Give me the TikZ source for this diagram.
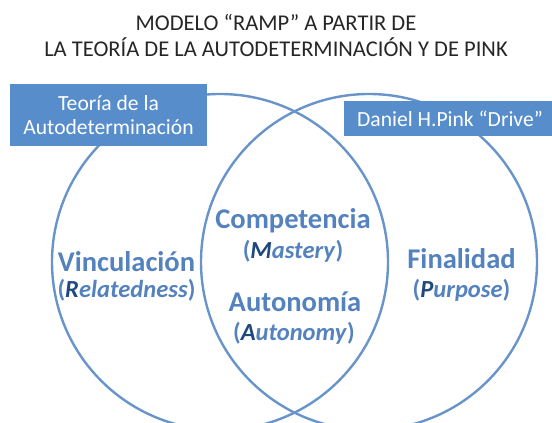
\documentclass[tikz,border=0pt]{standalone}
\usepackage{fontspec}
\setmainfont{Carlito}
\usepackage{xcolor}
\usepackage{tikz}
\definecolor{vennblue}{RGB}{104, 148, 202}
\definecolor{boxblue}{RGB}{88, 141, 203}
\definecolor{labelblue}{RGB}{84, 130, 190}
\definecolor{initialblue}{RGB}{31, 73, 125}
\definecolor{titlegray}{RGB}{38, 38, 38}

\begin{document}
\begin{tikzpicture}[
  x=0.75pt, y=-0.75pt,
  vennring/.style={draw=vennblue, line width=1.8pt},
  titleline/.style={anchor=base, text=titlegray, font=\fontsize{16.9}{19}\selectfont},
  sourcebox/.style={rectangle, fill=boxblue, text=white, inner sep=0pt, align=center, font=\fontsize{16.2}{18}\selectfont},
  needname/.style={anchor=base, text=labelblue, font=\bfseries\fontsize{21.4}{24}\selectfont},
  needgloss/.style={anchor=base, text=labelblue, font=\bfseries\fontsize{18.4}{22}\selectfont}
]
\useasboundingbox (0,0) rectangle (552,423);
\clip (0,0) rectangle (552,423);

% Title
\node[titleline] (title1) at (276, 31) {MODELO “RAMP” A PARTIR DE};
\node[titleline] (title2) at (276, 56.5) {LA TEORÍA DE LA AUTODETERMINACIÓN Y DE PINK};

% Venn circles
\coordinate (sdtcentre) at (220, 262);
\coordinate (pinkcentre) at (369, 262);
\draw[vennring] (sdtcentre) ellipse [x radius=168, y radius=168];
\draw[vennring] (pinkcentre) ellipse [x radius=168, y radius=168];

% Source boxes
\node[sourcebox, minimum width=147.75pt, minimum height=46.5pt] (sdtbox) at (108.5, 115) {Teoría de la\\Autodeterminación};
\node[sourcebox, minimum width=159pt, minimum height=26.25pt] (pinkbox) at (450, 118.5) {Daniel H.Pink “Drive”};

% Left: relatedness
\node[needname] (vinc) at (126.5, 271.5) {Vinculación};
\node[needgloss] (vincgloss) at (126.5, 298) {(\textit{\textcolor{initialblue}{R}elatedness})};

% Middle: competence and autonomy
\node[needname] (comp) at (293, 228.5) {Competencia};
\node[needgloss] (compgloss) at (293, 259) {(\textit{\textcolor{initialblue}{M}astery})};
\node[needname] (auto) at (295, 311) {Autonomía};
\node[needgloss] (autogloss) at (294, 340) {(\textit{\textcolor{initialblue}{A}utonomy})};

% Right: purpose
\node[needname] (fin) at (461.5, 268.5) {Finalidad};
\node[needgloss] (fingloss) at (461.5, 298) {(\textit{\textcolor{initialblue}{P}urpose})};

\end{tikzpicture}
\end{document}
